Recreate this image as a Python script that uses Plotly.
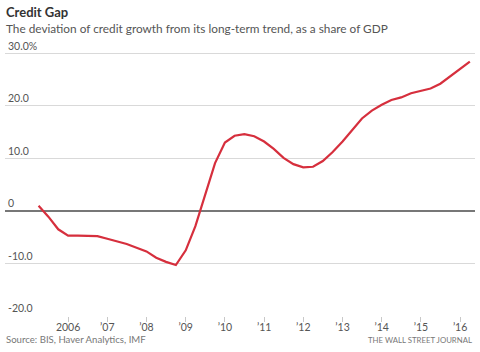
import plotly.graph_objects as go
import pandas as pd

quarters = pd.date_range("2005-04-01", periods=45, freq="QS").strftime("%Y-%m-%d").tolist()
credit_gap = [1.0, -1.1, -3.5, -4.7, -4.7, -4.7, -4.8, -5.3, -5.8, -6.3,
              -7.0, -7.7, -8.9, -9.7, -10.3, -7.5, -2.9, 3.1, 9.1, 13.0,
              14.3, 14.6, 14.2, 13.2, 11.8, 10.1, 8.9, 8.3, 8.4, 9.5,
              11.2, 13.2, 15.3, 17.6, 19.1, 20.2, 21.1, 21.6, 22.4, 22.9,
              23.3, 24.2, 25.6, 27.0, 28.4]

x_tick_vals = ["2006-01-01", "2007-01-01", "2008-01-01", "2009-01-01", "2010-01-01", "2011-01-01",
               "2012-01-01", "2013-01-01", "2014-01-01", "2015-01-01", "2016-01-01"]
x_tick_text = ["2006", "\u201907", "\u201908", "\u201909", "\u201910", "\u201911",
               "\u201912", "\u201913", "\u201914", "\u201915", "\u201916"]
y_tick_vals = [30, 20, 10, 0, -10, -20]
y_tick_text = ["30.0%", "20.0", "10.0", "0", "-10.0", "-20.0"]

FONT = "Lato, 'Open Sans', sans-serif"

W, H = 480, 352
PLOT_L, PLOT_R = 5, 475
PLOT_B = 316
Y_TOP = 35.0
PX_PER_UNIT = 5.25
PLOT_T = round(PLOT_B - (Y_TOP + 20) * PX_PER_UNIT)

fig = go.Figure()
fig.add_trace(go.Scatter(x=quarters, y=credit_gap, mode="lines",
                         line=dict(color="#d62f3d", width=2.2), hoverinfo="skip"))

def py(pix):
    return (PLOT_B - pix) / (PLOT_B - PLOT_T)
def px(pix):
    return (pix - PLOT_L) / (PLOT_R - PLOT_L)

fig.update_layout(
    width=W, height=H,
    margin=dict(l=PLOT_L, r=W - PLOT_R, t=PLOT_T, b=H - PLOT_B),
    paper_bgcolor="white", plot_bgcolor="rgba(0,0,0,0)",
    showlegend=False,
    font=dict(family=FONT, color="#555"),
    xaxis=dict(
        type="date", range=["2004-05-23", "2016-05-19"],
        tickvals=x_tick_vals, ticktext=x_tick_text,
        showgrid=False, zeroline=False,
        showline=False,
        ticks="outside", ticklen=5, tickcolor="#c8c8c8", tickwidth=1,
        ticklabelstandoff=-4,
        tickfont=dict(size=10.5, color="#555", family=FONT),
        fixedrange=True,
    ),
    yaxis=dict(
        range=[-20, Y_TOP],
        tickvals=y_tick_vals, ticktext=y_tick_text,
        ticklabelposition="inside top",
        showgrid=True, gridcolor="#d9d9d9", gridwidth=1,
        zeroline=True, zerolinecolor="#777", zerolinewidth=1.5,
        showline=False, ticks="",
        tickfont=dict(size=10.5, color="#555", family=FONT),
        fixedrange=True,
    ),
    annotations=[
        dict(text="<b>Credit Gap</b>", x=px(4), y=py(2), xref="paper", yref="paper", showarrow=False,
             xanchor="left", yanchor="top", font=dict(size=13, color="#333", family=FONT)),
        dict(text="The deviation of credit growth from its long-term trend, as a share of GDP",
             x=px(4), y=py(19), xref="paper", yref="paper", showarrow=False, xanchor="left", yanchor="top",
             font=dict(size=11.8, color="#555", family=FONT)),
        dict(text="Source: BIS, Haver Analytics, IMF", x=px(4), y=py(332), xref="paper", yref="paper",
             showarrow=False, xanchor="left", yanchor="top",
             font=dict(size=9.6, color="#777", family=FONT)),
        dict(text="THE WALL STREET JOURNAL", x=px(474), y=py(333), xref="paper", yref="paper",
             showarrow=False, xanchor="right", yanchor="top",
             font=dict(size=7.8, color="#777", family=FONT)),
    ],
)

fig.write_html("out.html")
